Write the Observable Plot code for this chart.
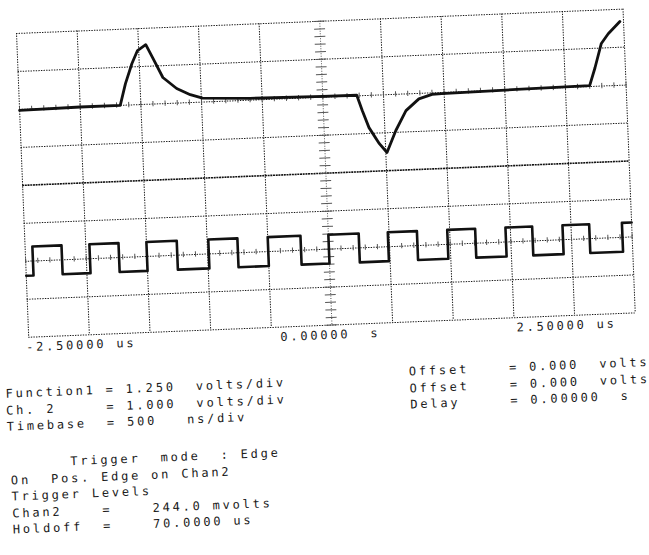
<!DOCTYPE html>
<html><head><meta charset="utf-8">
<script src="https://cdn.jsdelivr.net/npm/d3@7"></script>
<script src="https://cdn.jsdelivr.net/npm/@observablehq/plot@0.6"></script>
<style>
html,body{margin:0;padding:0;background:#fff;width:649px;height:555px;overflow:hidden;}
#page{position:absolute;left:0;top:0;width:649px;height:555px;transform:rotate(-2.3deg);transform-origin:16px 33px;}
#plot{position:absolute;left:12px;top:29px;}
#plot svg{overflow:visible;}
.ln{position:absolute;white-space:pre;font-family:"DejaVu Sans Mono",monospace;font-size:12px;letter-spacing:2.8px;line-height:12px;color:#1a1a1a;}
</style></head><body><div id="page"><div id="plot"></div></div>
<script>
// ---- Data (time in microseconds) ----
// Function 1 trace, volts (1.25 V/div, drawn in the upper half)
const f1Time  = [-2.50, -2.00, -1.67, -1.62, -1.56, -1.51, -1.44, -1.385, -1.31, -1.20, -1.09, -0.99, -0.60, 0.00, 0.28, 0.32, 0.37, 0.45, 0.51, 0.59, 0.68, 0.79, 0.90, 0.98, 1.60, 2.20, 2.25, 2.31, 2.37, 2.47];
const f1Volts = [-0.03, 0.00, 0.00, 0.71, 1.36, 1.78, 1.96, 1.50, 0.86, 0.48, 0.26, 0.13, 0.06, 0.03, 0.02, -0.49, -1.06, -1.60, -1.90, -1.19, -0.55, -0.18, -0.05, -0.04, 0.00, 0.03, 0.61, 1.40, 1.71, 2.10];
// Channel 2 square wave (1.000 V/div, drawn in the lower half)
const ch2RiseTimes = [-2.44, -1.97, -1.50, -0.99, -0.50, 0.00, 0.49, 0.98, 1.46, 1.93, 2.42];
const ch2FallTimes = [-2.20, -1.73, -1.25, -0.75, -0.23, 0.25, 0.73, 1.21, 1.68, 2.15];
const ch2HighVolts = 0.38;
const ch2LowVolts = -0.38;
const f1VoltsPerDiv = 1.25;
const ch2VoltsPerDiv = 1.0;
// Time-axis labels
const xTickValues = [-2.5, 0, 2.5];
const xTickLabels = ["-2.50000 us", "0.00000  s", "2.50000 us"];
// Settings text printed below the screen
const infoText = [
  "Function1 = 1.250  volts/div",
  "Ch. 2     = 1.000  volts/div",
  "Timebase  = 500   ns/div",
  "Offset    = 0.000  volts",
  "Offset    = 0.000  volts",
  "Delay     = 0.00000  s",
  "      Trigger  mode  : Edge",
  "On  Pos. Edge on Chan2",
  "Trigger Levels",
  "Chan2    =    244.0 mvolts",
  "Holdoff  =    70.0000 us"
];

// ---- Layout (screen frame before the page tilt) ----
const GX = 16, GY = 33, GW = 607, GH = 304;
const M = {l: 4, r: 4, t: 4, b: 30};
const infoLayout = [[-25,360],[-25,376.5],[-25,393],[379,354],[379,370.5],[379,387],[-23,430],[-23,446.5],[-23,463],[-23,479.5],[-23,496]];

// Build tables
const f1 = f1Time.map((t, i) => ({t, d: f1Volts[i] / f1VoltsPerDiv + 2}));
const ch2 = [{t: -2.5, d: ch2LowVolts / ch2VoltsPerDiv - 2}];
const edges = [
  ...ch2RiseTimes.map(t => ({t, v: ch2HighVolts})),
  ...ch2FallTimes.map(t => ({t, v: ch2LowVolts}))
].sort((a, b) => a.t - b.t);
for (const e of edges) ch2.push({t: e.t, d: e.v / ch2VoltsPerDiv - 2});
ch2.push({t: 2.5, d: ch2[ch2.length - 1].d});
const ticks = xTickValues.map((x, i) => ({x, label: xTickLabels[i]}));

const xMajor = d3.range(-2.5, 2.5001, 0.5);
const yMajor = d3.range(-4, 4.001, 1);
const yMinor = d3.range(-4, 4.001, 0.2);
const xMinor = d3.range(-2.5, 2.5001, 0.1);
const dot = "1.4,1.2";
const font = "DejaVu Sans Mono";
const lab = {x: "x", y: -4, text: "label", dy: 10, lineAnchor: "middle", fontSize: 12, fontFamily: font, fill: "#1a1a1a"};

const chart = Plot.plot({
  width: GW + M.l + M.r,
  height: GH + M.t + M.b,
  marginLeft: M.l, marginRight: M.r, marginTop: M.t, marginBottom: M.b,
  x: {domain: [-2.5, 2.5], axis: null},
  y: {domain: [-4, 4], axis: null},
  style: {background: "transparent", letterSpacing: "2.8px", fontFamily: font, overflow: "visible"},
  marks: [
    Plot.ruleX(xMajor.filter(d => Math.abs(d) > 1e-9), {stroke: "#1a1a1a", strokeWidth: 1, strokeDasharray: dot}),
    Plot.ruleY(yMajor.filter(d => d !== 0), {stroke: "#1a1a1a", strokeWidth: 1, strokeDasharray: dot}),
    Plot.ruleY([0], {stroke: "#111", strokeWidth: 1.6, strokeDasharray: "2,0.7"}),
    Plot.ruleX([0], {stroke: "#555", strokeWidth: 1, strokeDasharray: "1,1.5"}),
    Plot.ruleY(yMinor, {y: d => d, x1: -0.045, x2: 0.045, stroke: "#555", strokeWidth: 1}),
    Plot.ruleX(xMinor, {x: d => d, y1: 1.93, y2: 2.07, stroke: "#555", strokeWidth: 1}),
    Plot.ruleX(xMinor, {x: d => d, y1: -2.07, y2: -1.93, stroke: "#555", strokeWidth: 1}),
    Plot.line(f1, {x: "t", y: "d", stroke: "#111", strokeWidth: 2.8, strokeLinejoin: "round"}),
    Plot.line(ch2, {x: "t", y: "d", curve: "step-after", stroke: "#111", strokeWidth: 2.6}),
    Plot.text(ticks.filter(d => d.x < 0), {...lab, textAnchor: "start", dx: -3}),
    Plot.text(ticks.filter(d => d.x === 0), {...lab, textAnchor: "middle", dx: -2}),
    Plot.text(ticks.filter(d => d.x > 0), {...lab, textAnchor: "end", dx: -19})
  ]
});
document.getElementById("plot").appendChild(chart);

const page = document.getElementById("page");
infoText.forEach((s, i) => {
  const el = document.createElement("div");
  el.className = "ln";
  el.textContent = s;
  el.style.left = (GX + infoLayout[i][0]) + "px";
  el.style.top = (GY + infoLayout[i][1] - 6) + "px";
  page.appendChild(el);
});
</script></body></html>
